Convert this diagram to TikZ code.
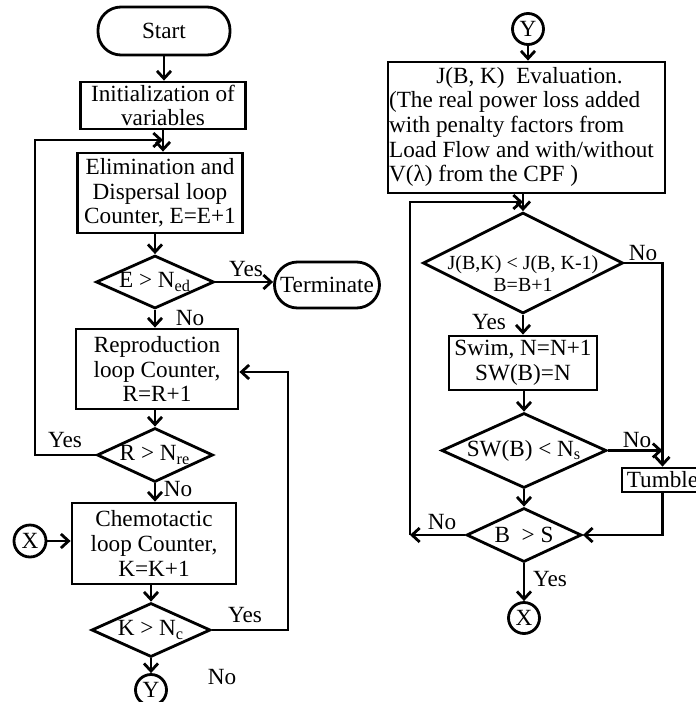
\documentclass[tikz,border=0pt]{standalone}
\usepackage{fontspec}
\setmainfont{Liberation Serif}
\usetikzlibrary{shapes.geometric,arrows.meta}
\begin{document}
\begin{tikzpicture}[x=0.5pt,y=-0.5pt,
  every node/.style={font=\fontsize{11.6}{12.3}\selectfont, inner sep=0pt},
  box/.style={draw, line width=1.4pt, rectangle, align=center},
  termbox/.style={draw, line width=1.4pt, rectangle, rounded corners=11.5pt},
  decision/.style={draw, line width=1.4pt, diamond, aspect=1},
  conn/.style={draw, line width=1.4pt, circle},
  arr/.style={line width=1.4pt, -{Straight Barb[length=3.8pt,width=7pt]}},
  ln/.style={line width=1.4pt}
]
\useasboundingbox (0,0) rectangle (696,702);

% ---------- left column ----------
\node[termbox, minimum width=66pt, minimum height=24pt] (start) at (164,31) {Start};
\node[box, minimum width=82.5pt, minimum height=23.5pt] (init) at (163,105.5) {Initialization of\\variables};
\node[box, minimum width=82.5pt, minimum height=40pt] (elim) at (160,193) {Elimination and\\Dispersal loop\\Counter, E=E+1};
\node[decision, minimum width=59pt, minimum height=26.5pt,
  label={[name=d1t]center:E > N\textsubscript{ed}}] (d1) at (155,282) {};
\node[termbox, minimum width=52.5pt, minimum height=23pt] (term) at (327,285) {Terminate};
\node[box, minimum width=81pt, minimum height=40pt] (repro) at (157,369) {Reproduction\\loop Counter,\\R=R+1};
\node[decision, minimum width=58pt, minimum height=27pt,
  label={[name=d2t]center:R > N\textsubscript{re}}] (d2) at (155,455) {};
\node[box, minimum width=82pt, minimum height=40.5pt] (chemo) at (154,543.5) {Chemotactic\\loop Counter,\\K=K+1};
\node[conn, minimum size=16pt] (xc) at (30,541) {X};
\node[decision, minimum width=59.5pt, minimum height=27pt,
  label={[name=d3t]center:K > N\textsubscript{c}}] (d3) at (151,630) {};
\node[conn, minimum size=15.5pt] (yc) at (151,690) {Y};

% ---------- right column ----------
\node[conn, minimum size=15.5pt] (yc2) at (528,29) {Y};
\node[box, minimum width=138.5pt, minimum height=65.5pt] (jbox) at (526.5,127.5)
  {\hspace*{-5pt}\begin{tabular}{@{}l@{}}\multicolumn{1}{@{}c@{}}{\hspace*{8pt}J(B, K)\ \ Evaluation.}\\(The real power loss added\\with penalty factors from\\Load Flow and with/without\\V(λ) from the CPF )\end{tabular}};
\node[decision, minimum width=100pt, minimum height=50.5pt,
  label={[name=dJt, align=center, yshift=-5.5pt, font=\fontsize{10}{11}\selectfont]center:J(B,K) < J(B, K-1)\\B=B+1}] (dJ) at (523,263) {};
\node[box, minimum width=74pt, minimum height=27pt] (swim) at (523,363) {Swim, N=N+1\\SW(B)=N};
\node[decision, minimum width=82.5pt, minimum height=37.5pt,
  label={[name=dSt]center:SW(B) < N\textsubscript{s}}] (dS) at (524,450.5) {};
\node[box, minimum width=40.5pt, minimum height=12pt] (tumble) at (662.5,480) {Tumble};
\node[decision, minimum width=57.5pt, minimum height=27pt,
  label={[name=dBt]center:B\ \ > S}] (dB) at (524,535) {};
\node[conn, minimum size=15.5pt] (xc2) at (524,618) {X};

% ---------- left connectors ----------
\draw[arr] (start.south) -- (start.south |- init.north);
\draw[arr] (init.south) -- (init.south |- elim.north);
\draw[arr] (elim.south -| d1.north) -- (d1.north);
\draw[arr] (d1.south) -- (d1.south |- repro.north);
\draw[arr] (repro.south -| d2.north) -- (d2.north);
\draw[arr] (d2.south) -- (d2.south |- chemo.north);
\draw[arr] (chemo.south -| d3.north) -- (d3.north);
\draw[arr] (d3.south) -- (yc.north);
\draw[arr] (d1.east) -- (d1.east -| term.west);
\draw[arr] (xc.east) -- (xc.east -| chemo.west);
\coordinate (c1) at (35,140);
\draw[arr] (d2.west) -| (c1) -- (c1 -| init.south);
\coordinate (c2) at (288,372);
\draw[arr] (d3.east) -| (c2) -- (c2 -| repro.east);

% ---------- right connectors ----------
\draw[arr] (yc2.south) -- (yc2.south |- jbox.north);
\draw[arr] (jbox.south -| dJ.north) -- (dJ.north);
\draw[arr] (dJ.south) -- (dJ.south |- swim.north);
\draw[arr] (swim.south -| dS.north) -- (dS.north);
\draw[arr] (dS.south) -- (dB.north);
\draw[arr] (dB.south) -- (xc2.north);
\draw[arr] (dJ.east) -- (dJ.east -| tumble.north) -- (tumble.north);
\draw[arr] (dS.east) -- (dS.east -| tumble.north);
\draw[arr] (tumble.south) |- (dB.east);
\coordinate (c4) at (410,202);
\draw[arr] (dB.west) -- (dB.west -| c4);
\draw[arr] (dB.west -| c4) -- (c4) -- (c4 -| dJ.north);

% ---------- labels ----------
\node (l1) at (246,269) {Yes};
\node (l2) at (190,318) {No};
\node (l3) at (65,440) {Yes};
\node (l4) at (178,489) {No};
\node (l5) at (245,615) {Yes};
\node (l6) at (222,677) {No};
\node (r1) at (643,253) {No};
\node (r2) at (489,322) {Yes};
\node (r3) at (637,440) {No};
\node (r4) at (442,522) {No};
\node (r5) at (550,579) {Yes};
\end{tikzpicture}
\end{document}
